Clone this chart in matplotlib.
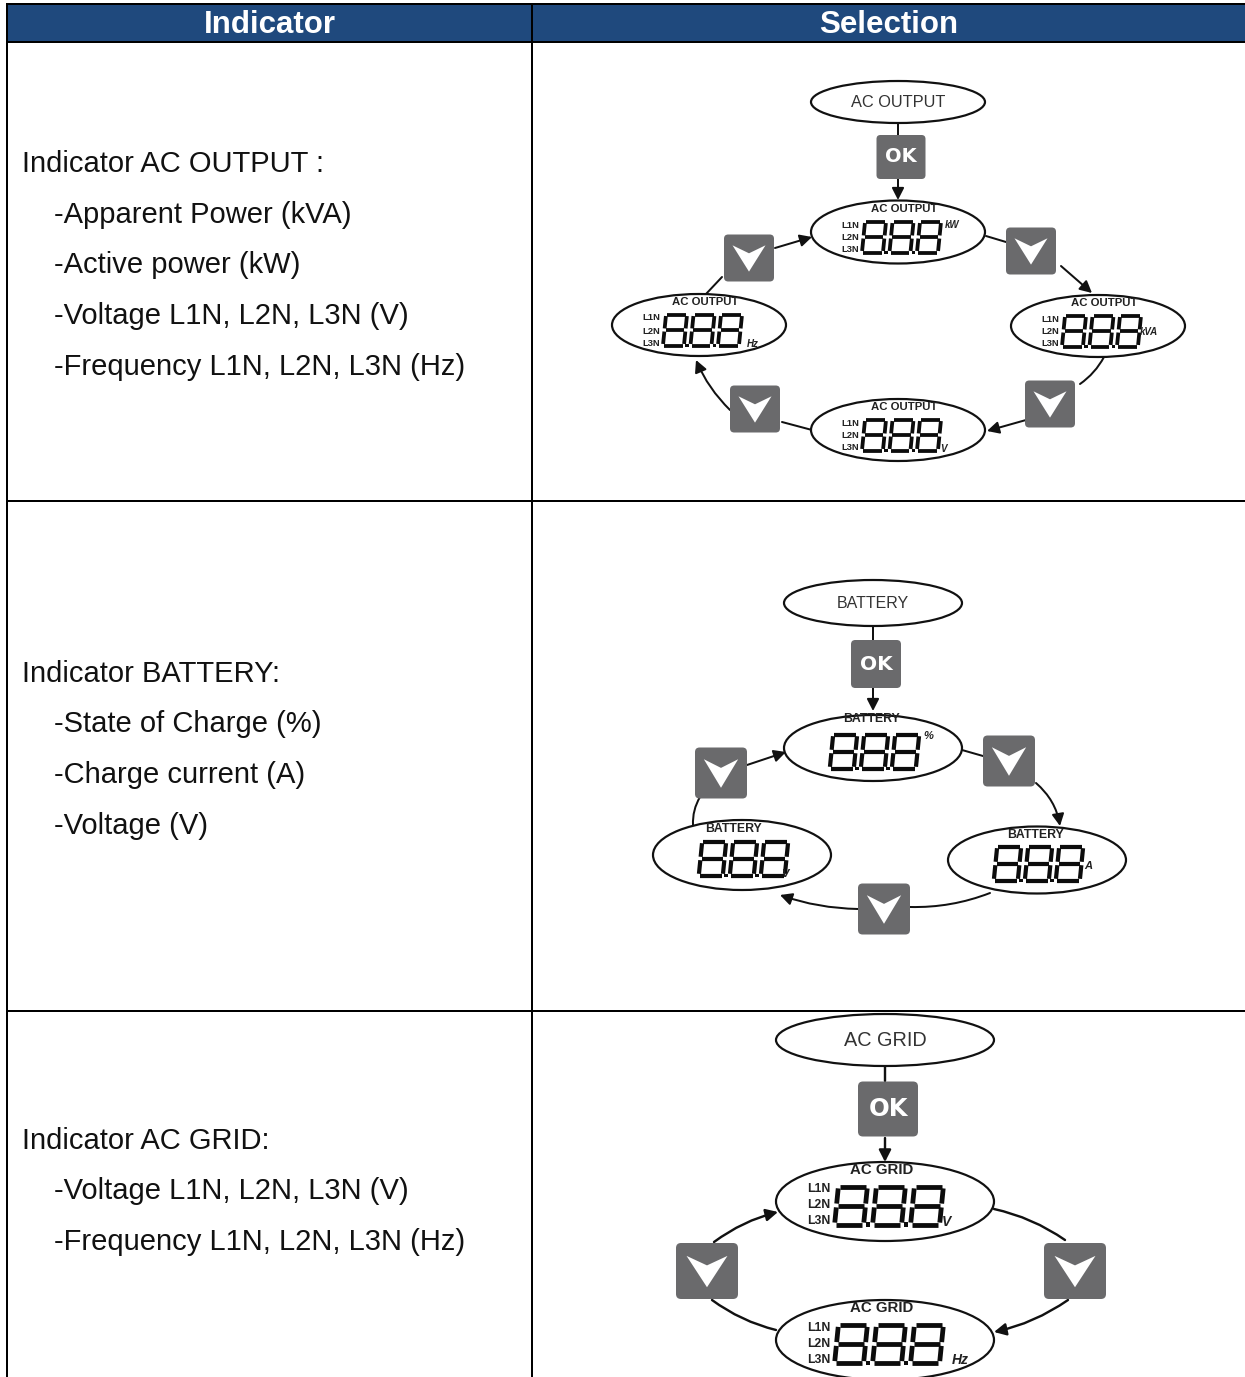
import matplotlib
matplotlib.use('Agg')
import matplotlib.pyplot as plt
from matplotlib.patches import Ellipse, FancyBboxPatch, FancyArrowPatch, Polygon, Rectangle

plt.rcParams['font.family'] = ['Liberation Sans', 'DejaVu Sans']

# texts of the table
headers = ['Indicator', 'Selection']
ac_output_lines = ['Indicator AC OUTPUT :', '-Apparent Power (kVA)', '-Active power (kW)',
                   '-Voltage L1N, L2N, L3N (V)', '-Frequency L1N, L2N, L3N (Hz)']
battery_lines = ['Indicator BATTERY:', '-State of Charge (%)', '-Charge current (A)', '-Voltage (V)']
ac_grid_lines = ['Indicator AC GRID:', '-Voltage L1N, L2N, L3N (V)', '-Frequency L1N, L2N, L3N (Hz)']
phase_labels = ['L1N', 'L2N', 'L3N']

# table layout in pixels
col_x = [7, 532, 1246]
row_y = [3.5, 42, 501, 1011]
ac_output_rows = [172, 223, 273, 324, 375]
battery_rows = [682, 732, 783, 834]
ac_grid_rows = [1149, 1199, 1250]

DARK = '#111111'
BTN = '#6a6a6c'

fig = plt.figure(figsize=(12.45, 13.77), dpi=100)
ax = fig.add_axes([0, 0, 1, 1])
ax.set_xlim(0, 1245)
ax.set_ylim(1377, 0)
ax.axis('off')


def px(w):
    # pixels to points
    return w * 0.72


def title_ellipse(cx, cy, w, h, label, size):
    ax.add_patch(Ellipse((cx, cy), w, h, fc='white', ec=DARK, lw=px(2.2), zorder=3))
    ax.text(cx, cy + 0.5, label, fontsize=size, color='#333333', ha='center', va='center', zorder=4)


def digits(gx, gy, W, S, H, lw):
    # three seven segment digits, gx and gy give the middle of the group
    slant = 0.1 * H
    for n in range(3):
        x0 = gx + (n - 1) * S

        def pt(u, v):
            return (x0 + u * W + (0.5 - v) * slant, gy + (v - 0.5) * H)
        gap = 0.05
        segs = [[(-.5 + gap, 0), (.5 - gap, 0)], [(-.5 + gap, .5), (.5 - gap, .5)], [(-.5 + gap, 1), (.5 - gap, 1)],
                [(-.5, gap), (-.5, .5 - gap)], [(.5, gap), (.5, .5 - gap)],
                [(-.5, .5 + gap), (-.5, 1 - gap)], [(.5, .5 + gap), (.5, 1 - gap)]]
        for s in segs:
            a = pt(*s[0])
            b = pt(*s[1])
            ax.plot([a[0], b[0]], [a[1], b[1]], color='#0c0c0c', lw=px(lw), solid_capstyle='butt', zorder=5)
        if n < 2:
            bx, by = pt(.5, 1)
            d = lw * 0.9
            ax.add_patch(Rectangle((bx + (S - W) / 2 - d / 2, by - d / 2), d, d, fc='#0c0c0c', ec='none', zorder=5))


def display(cx, cy, w, h, label, lab_pos, lab_size, dig, phases, unit, unit_off, unit_size):
    ax.add_patch(Ellipse((cx, cy), w, h, fc='white', ec=DARK, lw=px(2.2), zorder=3))
    ax.text(cx + lab_pos[0], cy + lab_pos[1], label, fontsize=lab_size, fontweight='bold', color='#222222',
            ha='center', va='center', zorder=4)
    digits(cx + dig[0], cy + dig[1], dig[2], dig[3], dig[4], dig[5])
    if phases:
        for name, dy in zip(phase_labels, phases[1:]):
            ax.text(cx + phases[0], cy + dy, name, fontsize=lab_size * 0.82, color='#222222',
                    fontweight='bold', ha='center', va='center', zorder=4)
    ax.text(cx + unit_off[0], cy + unit_off[1], unit, fontsize=unit_size, fontstyle='italic', fontweight='bold',
            color='#222222', ha='center', va='center', zorder=6)


def button(cx, cy, w, h, ok=False, size=14):
    r = min(w, h) * 0.09
    ax.add_patch(FancyBboxPatch((cx - w / 2 + r, cy - h / 2 + r), w - 2 * r, h - 2 * r,
                                boxstyle='round,pad=%f,rounding_size=%f' % (r, r),
                                fc=BTN, ec='none', zorder=4))
    if ok:
        ax.text(cx, cy, 'OK', fontsize=size, fontweight='bold', color='white', family='DejaVu Sans',
                ha='center', va='center', zorder=5)
    else:
        ax.add_patch(Polygon([(cx - .33 * w, cy - .27 * h), (cx, cy - .1 * h), (cx + .33 * w, cy - .27 * h),
                              (cx, cy + .29 * h)], fc='white', ec='none', zorder=5))


def link(a, b, rad=0.0, arrow=False, lw=2.0, head=10):
    style = '-|>,head_length=0.55,head_width=0.28' if arrow else '-'
    ax.add_patch(FancyArrowPatch(a, b, arrowstyle=style, connectionstyle='arc3,rad=%f' % rad,
                                 mutation_scale=head * 1.3, color=DARK, lw=px(lw), shrinkA=0, shrinkB=0, zorder=2))


# header and grid
ax.add_patch(Rectangle((col_x[0], row_y[0]), col_x[2] - col_x[0], row_y[1] - row_y[0], fc='#1f497d', ec='none'))
ax.text((col_x[0] + col_x[1]) / 2, 33, headers[0], fontsize=22.5, fontweight='bold', color='white',
        ha='center', va='baseline', zorder=8)
ax.text(888.5, 33, headers[1], fontsize=22.5, fontweight='bold', color='white',
        ha='center', va='baseline', zorder=8)
for y in row_y:
    ax.plot([col_x[0] - 1, col_x[2]], [y, y], color='black', lw=px(2), solid_capstyle='butt', zorder=7)
for x in col_x[:2]:
    ax.plot([x, x], [row_y[0], 1377], color='black', lw=px(2), solid_capstyle='butt', zorder=7)

# left column
for lines, rows in [(ac_output_lines, ac_output_rows), (battery_lines, battery_rows), (ac_grid_lines, ac_grid_rows)]:
    for i, (txt, y) in enumerate(zip(lines, rows)):
        ax.text(22 if i == 0 else 54, y, txt, fontsize=21, color='#111111', ha='left', va='baseline')

# AC OUTPUT diagram
title_ellipse(898, 102, 174, 42, 'AC OUTPUT', 11.8)
p1 = dict(label='AC OUTPUT', lab_pos=(6, -23), lab_size=8.2, dig=(3.5, 5, 21, 27.5, 31, 3.8),
          phases=(-48, -7, 6, 18), unit_size=7)
display(898, 232, 174, 63, unit='kW', unit_off=(54, -7), **p1)
display(1098, 326, 174, 62, unit='kVA', unit_off=(51, 6), **p1)
display(898, 430, 174, 62, unit='V', unit_off=(45, 19), **p1)
display(699, 325, 174, 62, unit='Hz', unit_off=(54, 19), **p1)
button(901, 157, 49, 44, ok=True, size=14)
for x, y in [(749, 258), (1031, 251), (1050, 404), (755, 409)]:
    button(x, y, 50, 47)
link((898, 124), (898, 136))
link((898, 178), (898, 200), arrow=True)
link((986, 236), (1006, 242))
link((1061, 266), (1092, 293), arrow=True)
link((1104, 357), (1080, 384), rad=-0.12)
link((1026, 420), (987, 431), arrow=True)
link((812, 430), (782, 422))
link((730, 410), (696, 360), rad=-0.1, arrow=True)
link((706, 294), (722, 277))
link((775, 248), (812, 237), arrow=True)

# BATTERY diagram
title_ellipse(873, 603, 178, 46, 'BATTERY', 11.5)
p2 = dict(label='BATTERY', lab_size=8.8, dig=(1.5, 3.5, 24, 31, 34, 4.2), phases=None, unit_size=8)
display(873, 748, 178, 66, lab_pos=(-2, -29), unit='%', unit_off=(55, -12), **p2)
display(1037, 860, 178, 67, lab_pos=(-2, -25), unit='A', unit_off=(51, 6), **p2)
display(742, 855, 178, 70, lab_pos=(-9, -26), unit='V', unit_off=(43, 19), **p2)
button(876, 664, 50, 48, ok=True, size=14.5)
for x, y in [(721, 773), (1009, 761), (884, 909)]:
    button(x, y, 52, 51)
link((873, 627), (873, 640))
link((873, 688), (873, 711), arrow=True)
link((962, 750), (983, 756))
link((1036, 783), (1060, 826), rad=-0.18, arrow=True)
link((990, 893), (910, 907), rad=-0.1)
link((858, 909), (780, 895), rad=-0.08, arrow=True)
link((693, 825), (700, 797), rad=-0.15)
link((747, 765), (786, 752), arrow=True)

# AC GRID diagram
title_ellipse(885, 1040, 218, 52, 'AC GRID', 14.3)
p3 = dict(label='AC GRID', lab_pos=(-3, -32), lab_size=10.8, dig=(4, 4, 29, 38, 38, 4.8),
          phases=(-66, -12, 4, 20), unit_size=10)
display(885, 1201.5, 218, 79, unit='V', unit_off=(61, 20), **p3)
display(885, 1340, 218, 80, unit='Hz', unit_off=(75, 20), **p3)
button(888, 1109, 60, 55, ok=True, size=17.5)
button(707, 1271, 62, 56)
button(1075, 1271, 62, 56)
link((885, 1066), (885, 1081), lw=2.4)
link((885, 1138), (885, 1162), arrow=True, lw=2.4)
link((994, 1209), (1065, 1240), rad=-0.1, lw=2.4)
link((1068, 1300), (994, 1332), rad=-0.1, arrow=True, lw=2.4)
link((776, 1330), (712, 1300), rad=-0.1, lw=2.4)
link((714, 1242), (778, 1212), rad=-0.1, arrow=True, lw=2.4)

fig.savefig('out.png', dpi=100)
